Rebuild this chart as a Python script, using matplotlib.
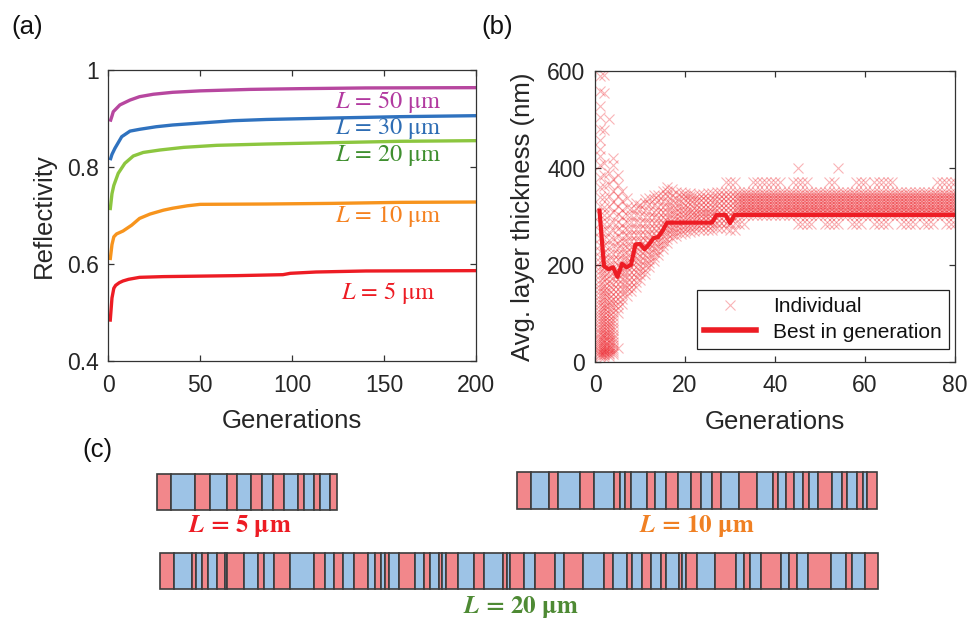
import numpy as np
import matplotlib
matplotlib.use("Agg")
import matplotlib.pyplot as plt
from matplotlib.lines import Line2D

plt.rcParams['font.family'] = ['Liberation Sans', 'DejaVu Sans']
plt.rcParams['mathtext.fontset'] = 'stix'

# ---------------- (a) reflectivity vs. generation ----------------
gen_5um = [1, 2, 3, 4, 6, 8, 11, 17, 30, 50, 70, 95, 99, 113, 140, 200]
refl_5um = [0.481, 0.530, 0.550, 0.556, 0.5615, 0.565, 0.5684, 0.5725, 0.574,
            0.575, 0.576, 0.578, 0.5808, 0.5835, 0.5856, 0.5863]

gen_10um = [1, 2, 3, 4.5, 8, 12.7, 17, 22.7, 30, 35, 43, 50, 86, 122, 159, 200]
refl_10um = [0.608, 0.640, 0.656, 0.662, 0.668, 0.680, 0.694, 0.703, 0.711,
             0.715, 0.720, 0.723, 0.7237, 0.725, 0.7271, 0.7278]

gen_20um = [1, 2, 3, 5.4, 9, 13.6, 19, 28, 41, 59, 86, 122, 159, 200]
refl_20um = [0.711, 0.745, 0.762, 0.787, 0.8076, 0.8227, 0.830, 0.835, 0.8405,
             0.8447, 0.8474, 0.8502, 0.853, 0.8543]

gen_30um = [1, 2, 3.6, 7.3, 11.8, 17, 26, 35, 50, 68, 86, 122, 159, 200]
refl_30um = [0.814, 0.826, 0.8385, 0.8625, 0.874, 0.8777, 0.883, 0.8866, 0.8907,
             0.8955, 0.898, 0.901, 0.9038, 0.9058]

gen_50um = [1, 2, 2.7, 6.3, 11.8, 17, 24.5, 35, 50, 77, 104, 140, 200]
refl_50um = [0.8935, 0.905, 0.914, 0.928, 0.938, 0.945, 0.950, 0.954, 0.957,
             0.960, 0.9615, 0.963, 0.9636]

# ---------------- (b) layer thickness vs. generation ----------------
best_gen = list(range(1, 81))
best_thickness = [312, 197, 191, 195, 175, 202, 195, 200, 242, 243,
                  232, 242, 255, 257, 270, 287, 287, 287, 287, 287,
                  287, 287, 287, 287, 287, 287, 303, 303, 303, 286,
                  303, 303, 303, 303, 303, 303, 303, 303, 303, 303,
                  303, 303, 303, 303, 303, 303, 303, 303, 303, 303,
                  303, 303, 303, 303, 303, 303, 303, 303, 303, 303,
                  303, 303, 303, 303, 303, 303, 303, 303, 303, 303,
                  303, 303, 303, 303, 303, 303, 303, 303, 303, 303]

# individuals of generations 1..31 (one list per generation)
individual_thickness = [
    [10, 13, 16, 19, 22, 26, 30, 34, 38, 42, 47, 52, 57, 62, 67, 72, 78, 84, 90,
     96, 102, 109, 116, 123, 130, 137, 145, 153, 161, 169, 178, 187, 196, 206,
     216, 228, 241, 255, 270, 286, 303, 321, 340, 360, 382, 405, 425, 440, 458,
     480, 505, 527, 558, 590],
    [10, 13, 16, 19, 23, 27, 31, 35, 40, 45, 50, 55, 60, 66, 72, 78, 84, 90, 97,
     104, 111, 118, 125, 133, 141, 149, 157, 166, 175, 184, 194, 204, 215, 227,
     240, 254, 269, 285, 302, 320, 340, 362, 385, 410, 478, 555, 592],
    [12, 15, 18, 22, 26, 30, 35, 40, 45, 50, 56, 62, 68, 74, 80, 87, 94, 101, 108,
     116, 124, 132, 140, 149, 158, 167, 177, 187, 198, 210, 223, 237, 252, 268,
     285, 303, 322, 343, 366, 390, 500],
    [15, 19, 24, 29, 34, 40, 46, 52, 58, 65, 72, 79, 87, 95, 103, 112, 121, 130,
     140, 150, 161, 172, 184, 196, 209, 223, 238, 254, 271, 289, 309, 330, 353,
     378, 405, 420],
    [28, 100, 110, 120, 130, 140, 150, 160, 170, 180, 190, 200, 211, 222, 234,
     246, 259, 273, 288, 304, 322, 342, 365, 385],
    [120, 130, 140, 150, 160, 170, 180, 190, 200, 210, 221, 232, 244, 256, 269,
     283, 298, 314, 332, 352],
    [135, 145, 155, 165, 175, 185, 195, 205, 215, 226, 237, 249, 261, 274, 288,
     303, 320, 338],
    [145, 155, 165, 175, 185, 195, 205, 215, 226, 237, 249, 261, 274, 288, 303, 318],
    [155, 165, 175, 185, 195, 205, 215, 226, 237, 249, 261, 274, 288, 303, 318, 328],
    [168, 178, 188, 198, 208, 218, 228, 239, 250, 262, 274, 287, 301, 315, 324],
    [180, 190, 200, 210, 220, 230, 240, 251, 262, 274, 286, 299, 313, 327, 336],
    [195, 204, 213, 222, 232, 242, 252, 263, 274, 286, 298, 311, 325, 338],
    [208, 217, 226, 235, 245, 255, 265, 276, 287, 298, 310, 323, 336, 344],
    [220, 229, 238, 247, 256, 266, 276, 286, 297, 308, 320, 333, 345],
    [232, 241, 250, 259, 268, 278, 288, 298, 308, 319, 331, 343, 352],
    [245, 254, 263, 272, 281, 290, 299, 309, 319, 330, 341, 352, 360],
    [255, 263, 271, 279, 287, 295, 304, 313, 323, 333, 344, 356],
    [260, 268, 276, 284, 292, 300, 309, 318, 328, 338, 350],
    [264, 272, 280, 288, 296, 304, 313, 322, 331, 341, 350],
    [266, 274, 282, 290, 298, 306, 315, 324, 333, 342, 348],
    [268, 276, 284, 292, 300, 308, 316, 325, 334, 343, 348],
    [270, 278, 286, 294, 302, 310, 318, 327, 336, 344],
    [272, 280, 288, 296, 304, 312, 320, 329, 338, 346],
    [272, 280, 288, 296, 304, 312, 320, 329, 338, 346],
    [272, 280, 288, 296, 304, 312, 320, 329, 338, 348],
    [272, 280, 288, 296, 304, 312, 320, 329, 338, 348],
    [275, 287, 296, 305, 314, 323, 332, 341, 350],
    [275, 287, 296, 305, 314, 323, 332, 341, 350],
    [275, 287, 296, 305, 314, 323, 332, 341, 350, 370],
    [272, 287, 296, 305, 314, 323, 332, 341, 350, 370],
    [272, 287, 296, 305, 314, 323, 332, 341, 350, 370],
]
# converged population, generations 32..80
late_gens = list(range(32, 81))
late_levels = [303, 308, 314, 320, 326, 332, 338, 344, 350]
low_row_gens = [32, 33, 45, 46, 47, 48, 51, 52, 53, 54, 57, 58, 59, 62, 63, 64,
                65, 68, 69, 70, 71, 73, 74, 75, 78, 79, 80]
low_row_value = 285
high_row_gens = [35, 36, 37, 38, 39, 40, 41, 44, 45, 46, 47, 52, 53, 58, 59, 60,
                 62, 63, 64, 65, 66, 76, 77, 78, 79, 80]
high_row_value = 370
outlier_gens = [45, 54]
outlier_values = [400, 400]

# ---------------- (c) layer stacks (thickness in nm, alternating) ----------------
stack_5um = [400, 650, 420, 470, 300, 370, 310, 300, 325, 385, 175, 270, 175, 270, 190]
stack_10um = [381, 502, 270, 605, 391, 558, 158, 149, 167, 456, 214, 298, 326, 372,
              270, 307, 251, 502, 521, 428, 140, 242, 214, 260, 158, 251, 381, 288,
              140, 288, 149, 130, 260]
stack_20um = [399, 480, 134, 159, 176, 234, 226, 67, 455, 413, 153, 293, 438, 656,
              315, 262, 240, 318, 371, 209, 167, 112, 98, 279, 441, 276, 142, 271,
              89, 86, 346, 449, 285, 516, 117, 78, 385, 326, 558, 232, 550, 566,
              251, 402, 140, 279, 232, 279, 145, 357, 103, 106, 312, 483, 605, 212,
              165, 301, 578, 218, 229, 287, 642, 424, 181, 343, 377]

# ---------------- styling ----------------
TEXT = '#262626'
AXC = '#333333'
RED = '#ED1C24'
W, H = 970, 621

fig = plt.figure(figsize=(W / 100, H / 100), dpi=100)


def style_axes(ax):
    for s in ax.spines.values():
        s.set_color(AXC)
        s.set_linewidth(0.9)
    ax.tick_params(direction='in', top=True, right=True, length=4.5, width=0.9,
                   color=AXC, labelcolor=TEXT, labelsize=16.5)
    ax.tick_params(axis='x', pad=9)
    ax.tick_params(axis='y', pad=7)


# panel (a)
ax_a = fig.add_axes([108.3 / W, 1 - 361 / H, 367.7 / W, 291 / H])
curves = [
    (gen_5um, refl_5um, '#ED1C24'),
    (gen_10um, refl_10um, '#F7941D'),
    (gen_20um, refl_20um, '#8CC63F'),
    (gen_30um, refl_30um, '#2F72BF'),
    (gen_50um, refl_50um, '#B7479F'),
]
for g, r, c in curves:
    ax_a.plot(g, r, color=c, lw=2.4, solid_joinstyle='round', solid_capstyle='butt')
ax_a.set_xlim(0, 200)
ax_a.set_ylim(0.4, 1.0)
ax_a.set_xticks([0, 50, 100, 150, 200])
ax_a.set_yticks([0.4, 0.6, 0.8, 1.0])
ax_a.set_yticklabels(['0.4', '0.6', '0.8', '1'])
style_axes(ax_a)
ax_a.set_ylabel('Reflectivity', fontsize=18.5, color=TEXT)
ax_a.set_xlabel('Generations', fontsize=18.5, color=TEXT, va='top')
ax_a.yaxis.set_label_coords(-0.142, 0.5)
ax_a.xaxis.set_label_coords(0.5, -0.165)

curve_labels = [
    (181.3, 0.9346, r'$L$ = 50 μm', '#B23AA0'),
    (181.3, 0.8784, r'$L$ = 30 μm', '#2E6DB4'),
    (181.3, 0.8227, r'$L$ = 20 μm', '#3F8F2F'),
    (181.3, 0.697, r'$L$ = 10 μm', '#F58220'),
    (177.7, 0.540, r'$L$ = 5 μm', '#ED1C24'),
]
for x, y, s, c in curve_labels:
    ax_a.text(x, y, s, color=c, ha='right', va='center', fontsize=17.5,
              family='STIXGeneral')

# panel (b)
ax_b = fig.add_axes([595 / W, 1 - 361.7 / H, 360 / W, 290.7 / H])
ind_x, ind_y = [], []
for i, vals in enumerate(individual_thickness):
    ind_x += [i + 1] * len(vals)
    ind_y += vals
for g in late_gens:
    ind_x += [g] * len(late_levels)
    ind_y += late_levels
ind_x += low_row_gens
ind_y += [low_row_value] * len(low_row_gens)
ind_x += high_row_gens
ind_y += [high_row_value] * len(high_row_gens)
ind_x += outlier_gens
ind_y += outlier_values

ax_b.plot(ind_x, ind_y, ls='none', marker='x', ms=7, mew=0.8, color=RED, alpha=0.33)
ax_b.plot(best_gen, best_thickness, color=RED, lw=3.0, solid_joinstyle='round')
ax_b.set_xlim(0, 80)
ax_b.set_ylim(0, 600)
ax_b.set_xticks([0, 20, 40, 60, 80])
ax_b.set_yticks([0, 200, 400, 600])
style_axes(ax_b)
ax_b.set_ylabel('Avg. layer thickness (nm)', fontsize=18.5, color=TEXT)
ax_b.set_xlabel('Generations', fontsize=18.5, color=TEXT, va='top')
ax_b.yaxis.set_label_coords(-0.167, 0.5)
ax_b.xaxis.set_label_coords(0.5, -0.165)

handles = [
    Line2D([], [], ls='none', marker='x', ms=7, mew=0.8, color=RED, alpha=0.33),
    Line2D([], [], color=RED, lw=4),
]
leg = ax_b.legend(handles, ['Individual', 'Best in generation'], loc='lower right',
                  bbox_to_anchor=(0.983, 0.0437), borderaxespad=0, fontsize=15,
                  fancybox=False, framealpha=1, edgecolor='#222222',
                  handlelength=2.5, handletextpad=0.8, borderpad=0.35,
                  labelspacing=0.3)
leg.get_frame().set_linewidth(0.9)
for t in leg.get_texts():
    t.set_color('#111111')

# panel (c): layer stacks, x in micrometres
UM_PER_PX = 0.02787
ax_c = fig.add_axes([0, 0, 1, 1], zorder=-1)
ax_c.set_xlim(0, W * UM_PER_PX)
ax_c.set_ylim(H, 0)
ax_c.axis('off')

LAYER_RED = '#F2878B'
LAYER_BLUE = '#9DC3E6'
EDGE = '#3C3C3C'


def draw_stack(thick_nm, x0_px, top_px, height_px):
    w = np.asarray(thick_nm, dtype=float) / 1000.0
    lefts = x0_px * UM_PER_PX + np.concatenate([[0.0], np.cumsum(w)[:-1]])
    colors = [LAYER_RED if k % 2 == 0 else LAYER_BLUE for k in range(len(w))]
    ax_c.bar(lefts, height_px, width=w, bottom=top_px, align='edge',
             color=colors, edgecolor=EDGE, linewidth=1.2)


draw_stack(stack_5um, 157, 474, 36)
draw_stack(stack_10um, 517, 472, 37)
draw_stack(stack_20um, 160, 553, 36)

fig.text(240 / W, 1 - 526 / H, r'$\mathbfit{L}$ = 5 μm', color='#ED1C24',
         ha='center', va='center', fontsize=18, family='STIXGeneral', weight='bold')
fig.text(697 / W, 1 - 526 / H, r'$\mathbfit{L}$ = 10 μm', color='#F08023',
         ha='center', va='center', fontsize=18, family='STIXGeneral', weight='bold')
fig.text(521 / W, 1 - 607 / H, r'$\mathbfit{L}$ = 20 μm', color='#4E8A34',
         ha='center', va='center', fontsize=18, family='STIXGeneral', weight='bold')

# panel tags
for x, y, s in [(27, 27, '(a)'), (497, 27, '(b)'), (97, 450, '(c)')]:
    fig.text(x / W, 1 - y / H, s, ha='center', va='center', fontsize=18.5, color='#111111')

fig.savefig('out.png', dpi=100)
